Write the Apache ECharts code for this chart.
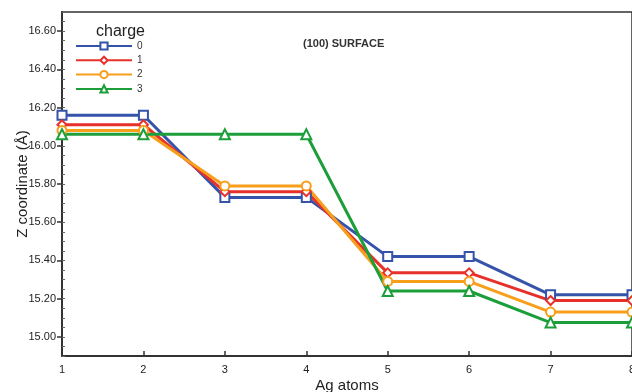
<!DOCTYPE html>
<html><head><meta charset="utf-8">
<script src="https://cdn.jsdelivr.net/npm/echarts@6/dist/echarts.min.js"></script>
<style>html,body{margin:0;padding:0;background:#fff}#c{width:632px;height:392px}</style>
</head><body><div id="c"></div>
<script>
const atoms = [1, 2, 3, 4, 5, 6, 7, 8];
const charge0 = [16.16, 16.16, 15.73, 15.73, 15.42, 15.42, 15.22, 15.22];
const charge1 = [16.11, 16.11, 15.76, 15.76, 15.335, 15.335, 15.19, 15.19];
const charge2 = [16.08, 16.08, 15.79, 15.79, 15.29, 15.29, 15.13, 15.13];
const charge3 = [16.06, 16.06, 16.06, 16.06, 15.24, 15.24, 15.075, 15.075];
const yTicks = [15.0, 15.2, 15.4, 15.6, 15.8, 16.0, 16.2, 16.4, 16.6];
const names = ['0', '1', '2', '3'];
const colors = ['#3553a8', '#e8302a', '#f79e1b', '#1c9e3a'];
const symbols = ['emptyRect', 'emptyDiamond', 'emptyCircle', 'emptyTriangle'];
const all = [charge0, charge1, charge2, charge3];
const font = 'Liberation Sans, Arial, sans-serif';
const chart = echarts.init(document.getElementById('c'));
chart.setOption({
  animation: false,
  textStyle: {fontFamily: font},
  grid: {left: 62, right: 0, top: 12, bottom: 36, outerBoundsMode: 'none', containLabel: false,
    show: true, borderColor: '#333', borderWidth: 1.5, backgroundColor: 'transparent'},
  title: [
    {text: '(100) SURFACE', left: 298, top: 33, textStyle: {fontSize: 11, fontWeight: 'bold', color: '#333', fontFamily: font}},
    {text: 'charge', left: 91, top: 19, textStyle: {fontSize: 16, fontWeight: 'normal', color: '#222', fontFamily: font}}
  ],
  legend: {
    orient: 'vertical', left: 70, top: 36, itemWidth: 56, itemHeight: 9, itemGap: 4.3,
    textStyle: {fontSize: 10, color: '#333', fontFamily: font},
    data: names
  },
  xAxis: {
    type: 'value', min: 1, max: 8, interval: 1,
    name: 'Ag atoms', nameLocation: 'middle', nameGap: 22, nameMoveOverlap: false,
    nameTextStyle: {fontSize: 15, color: '#222'},
    axisLine: {lineStyle: {color: '#333', width: 2}},
    axisTick: {inside: true, length: 5, lineStyle: {color: '#333', width: 1.5}},
    axisLabel: {fontSize: 11, color: '#222', margin: 8},
    splitLine: {show: false}
  },
  yAxis: [{
    type: 'value', min: 14.9, max: 16.7, interval: 0.05,
    axisLine: {lineStyle: {color: '#333', width: 2}},
    axisTick: {inside: true, length: 3, lineStyle: {color: '#666', width: 1}},
    axisLabel: {show: false},
    splitLine: {show: false}
  }, {
    type: 'value', min: 14.9, max: 16.7, position: 'left', offset: 0,
    name: 'Z coordinate (Å)', nameLocation: 'middle', nameGap: 32, nameMoveOverlap: false,
    nameTextStyle: {fontSize: 15, color: '#222'},
    axisLine: {show: false},
    axisTick: {length: 5, customValues: yTicks, lineStyle: {color: '#333', width: 1.5}},
    axisLabel: {fontSize: 11, color: '#222', margin: 6, customValues: yTicks,
      formatter: v => v.toFixed(2)},
    splitLine: {show: false}
  }],
  series: all.map((d, i) => ({
    name: names[i], type: 'line', yAxisIndex: 0,
    data: atoms.map((a, j) => [a, d[j]]),
    symbol: symbols[i], symbolSize: i === 3 ? 10 : 9,
    showAllSymbol: true, clip: false,
    lineStyle: {color: colors[i], width: 3},
    itemStyle: {color: colors[i], borderColor: colors[i], borderWidth: 2}
  }))
});
</script></body></html>
